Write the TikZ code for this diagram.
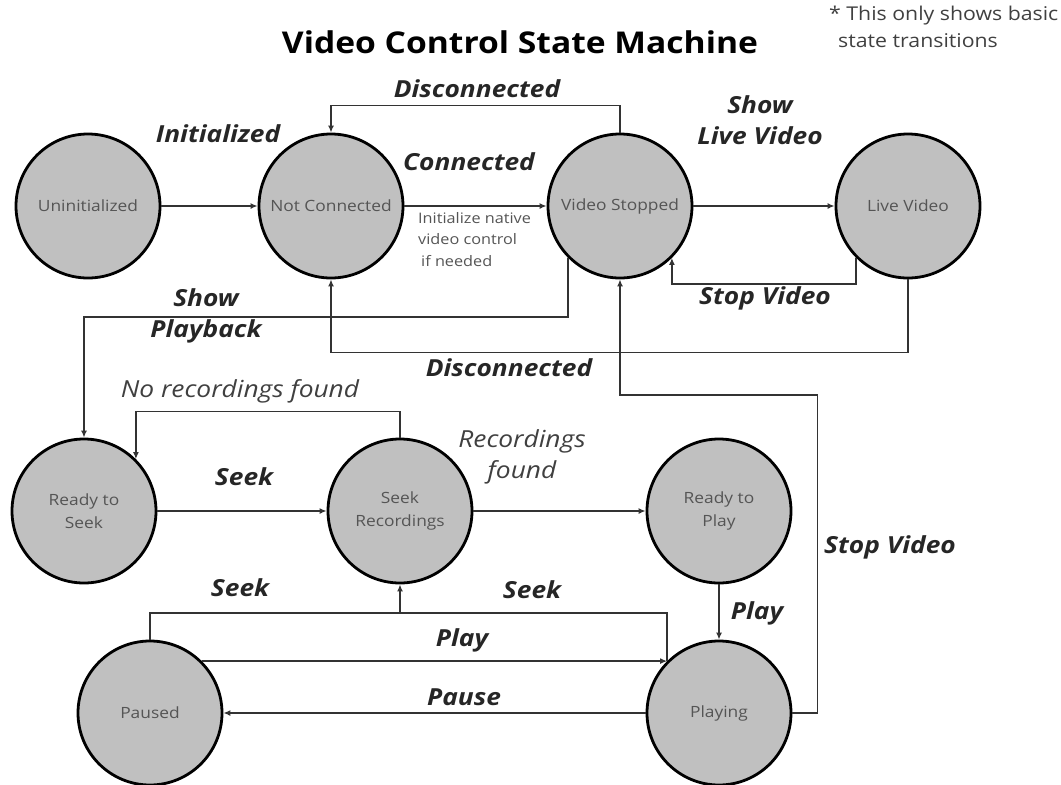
\documentclass[tikz,border=0pt]{standalone}
\usepackage{fontspec}
\setmainfont{Open Sans}
\newfontfamily\widefont[FakeStretch=1.12]{Open Sans}
\usetikzlibrary{arrows.meta,calc}
\definecolor{stategray}{HTML}{C0C0C0}
\definecolor{statetext}{HTML}{555555}
\definecolor{linegray}{HTML}{333333}
\begin{document}
\begin{tikzpicture}[x=1pt,y=-1pt,
  state/.style={circle,draw=black,line width=2.8pt,fill=stategray,minimum size=144pt,inner sep=0pt,align=center,text=statetext,font=\widefont\fontsize{15.5}{23}\selectfont},
  arr/.style={draw=linegray,line width=1.7pt,-{Latex[length=7pt,width=6pt]}},
  conn/.style={draw=linegray,line width=1.7pt},
  lbl/.style={font=\widefont\fontsize{23.5}{31}\selectfont\bfseries\itshape,text=black!85,align=center,inner sep=0pt},
  ilbl/.style={font=\widefont\fontsize{23.5}{31}\selectfont\itshape,text=black!75,align=center,inner sep=0pt}
]
\useasboundingbox (0,0) rectangle (1061,785);
% states
\node[state] (uninit) at (88,206) {Uninitialized};
\node[state] (notconn) at (331,206) {Not Connected};
\node[state] (vstop) at (620,206) {Video Stopped};
\node[state] (live) at (908,206) {Live Video};
\node[state] (rseek) at (84,511) {Ready to\\Seek};
\node[state] (seekrec) at (400,511) {Seek\\Recordings};
\node[state] (rplay) at (719,511) {Ready to\\Play};
\node[state] (paused) at (150,713) {Paused};
\node[state] (playing) at (719,713) {Playing};
% title and note
\node[font=\widefont\fontsize{30}{34}\selectfont\bfseries,inner sep=0pt] (title) at (520,42) {Video Control State Machine};
\node[anchor=north west,align=left,font=\widefont\fontsize{19}{27}\selectfont,text=black!75,inner sep=0pt] (note) at (829,6) {* This only shows basic\\\hspace*{9pt}state transitions};
% connectors
\draw[arr] (uninit) -- (notconn);
\draw[arr] (notconn) -- (vstop);
\draw[arr] (vstop) -- (live);
\draw[arr] (vstop.north) -- ++(0,-27) -| (notconn.north);
\draw[arr] (live.south west) -- ++(0,26) -| (vstop.south east);
\draw[arr] (vstop.south west) -- ++(0,59) -| (rseek.north);
\draw[arr] (live.south) -- ++(0,73) -| (notconn.south);
\draw[arr] (playing.east) -- ++(25,0) -- ++(0,-318) -| (vstop.south);
\draw[arr] (rseek) -- (seekrec);
\draw[arr] (seekrec.north) -- ++(0,-26) -| (rseek.north east);
\draw[arr] (seekrec) -- (rplay);
\draw[arr] (rplay) -- (playing);
\coordinate (seekjoin) at (400,613);
\draw[conn] (paused.north) |- (seekjoin);
\draw[arr] (playing.north west) |- (seekjoin) -- (seekrec.south);
\draw[arr] (paused.north east) -- (playing.north west);
\draw[arr] (playing) -- (paused);
% labels
\node[lbl] (l1) at (477,89) {Disconnected};
\node[lbl] (l2) at (218,134) {Initialized};
\node[lbl] (l3) at (469,162) {Connected};
\node[anchor=north west,align=left,font=\widefont\fontsize{14.5}{21.5}\selectfont,text=statetext,inner sep=0pt] (l4) at (418,212) {Initialize native\\video control\\\hspace*{3pt}if needed};
\node[lbl] (l5) at (760,120) {Show\\Live Video};
\node[lbl] (l6) at (765,298) {Stop Video};
\node[lbl] (l7) at (206,316) {Show\\Playback};
\node[lbl] (l8) at (509,368) {Disconnected};
\node[ilbl] (l9) at (240,391) {No recordings found};
\node[lbl] (l10) at (244,477) {Seek};
\node[ilbl] (l11) at (522,457) {Recordings\\found};
\node[lbl] (l12) at (240,588) {Seek};
\node[lbl] (l13) at (532,590) {Seek};
\node[lbl] (l14) at (462,640) {Play};
\node[lbl] (l15) at (464,697) {Pause};
\node[lbl] (l16) at (757,613) {Play};
\node[lbl] (l17) at (890,547) {Stop Video};
\end{tikzpicture}
\end{document}
